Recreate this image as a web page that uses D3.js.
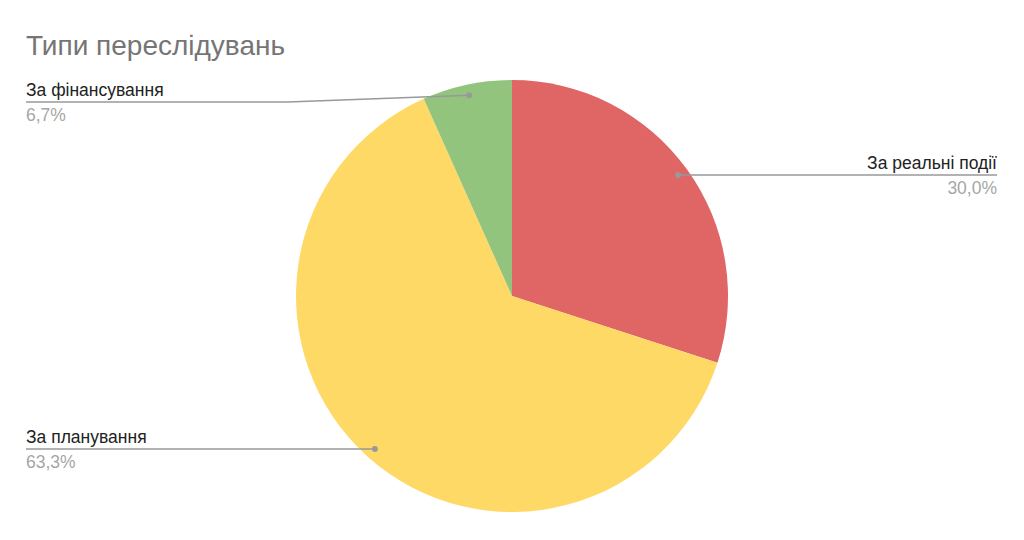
<!DOCTYPE html>
<html><head><meta charset="utf-8">
<script src="https://cdn.jsdelivr.net/npm/d3@7"></script>
<style>body{margin:0;background:#fff}svg{display:block;font-family:"Liberation Sans",Arial,sans-serif}</style>
</head><body><svg id="c" width="1024" height="540"></svg>
<script>
const categories = ["За реальні події", "За планування", "За фінансування"];
const values = [30.0, 63.3, 6.7];
const percentLabels = ["30,0%", "63,3%", "6,7%"];
const colors = ["#e06666", "#ffd966", "#93c47d"];

const svg = d3.select("#c");
svg.append("text").attr("x", 26).attr("y", 55).attr("font-size", 28).attr("fill", "#757575").text("Типи переслідувань");

const cx = 512, cy = 296, R = 216;
const g = svg.append("g").attr("transform", `translate(${cx},${cy})`);
const pie = d3.pie().sort(null).value(d => d)(values);
const arc = d3.arc().innerRadius(0).outerRadius(R);
g.selectAll("path").data(pie).enter().append("path").attr("d", arc).attr("fill", (d, i) => colors[i]);

const inner = d3.arc().innerRadius(R * 0.95).outerRadius(R * 0.95);
const layout = [
  {anchor: "end", x: 997, y: 175, bend: null},
  {anchor: "start", x: 26, y: 449, bend: null},
  {anchor: "start", x: 26, y: 102, bend: 288}
];
pie.forEach((d, i) => {
  const [px, py] = inner.centroid(d);
  const dx = cx + px, dy = cy + py;
  const L = layout[i];
  let pts;
  if (L.bend !== null) pts = [[L.x, L.y], [L.bend, L.y], [dx, dy]];
  else pts = [[L.x, L.y], [dx, L.y]];
  svg.append("path").attr("d", d3.line()(pts)).attr("fill", "none").attr("stroke", "#999").attr("stroke-width", 1.5);
  svg.append("circle").attr("cx", dx).attr("cy", L.bend !== null ? dy : L.y).attr("r", 3).attr("fill", "#999");
  svg.append("text").attr("x", L.x).attr("y", L.y - 6).attr("text-anchor", L.anchor).attr("font-size", 17.5).attr("fill", "#222").text(categories[i]);
  svg.append("text").attr("x", L.x).attr("y", L.y + 19).attr("text-anchor", L.anchor).attr("font-size", 17.5).attr("fill", "#a6a6a6").text(percentLabels[i]);
});
</script></body></html>
